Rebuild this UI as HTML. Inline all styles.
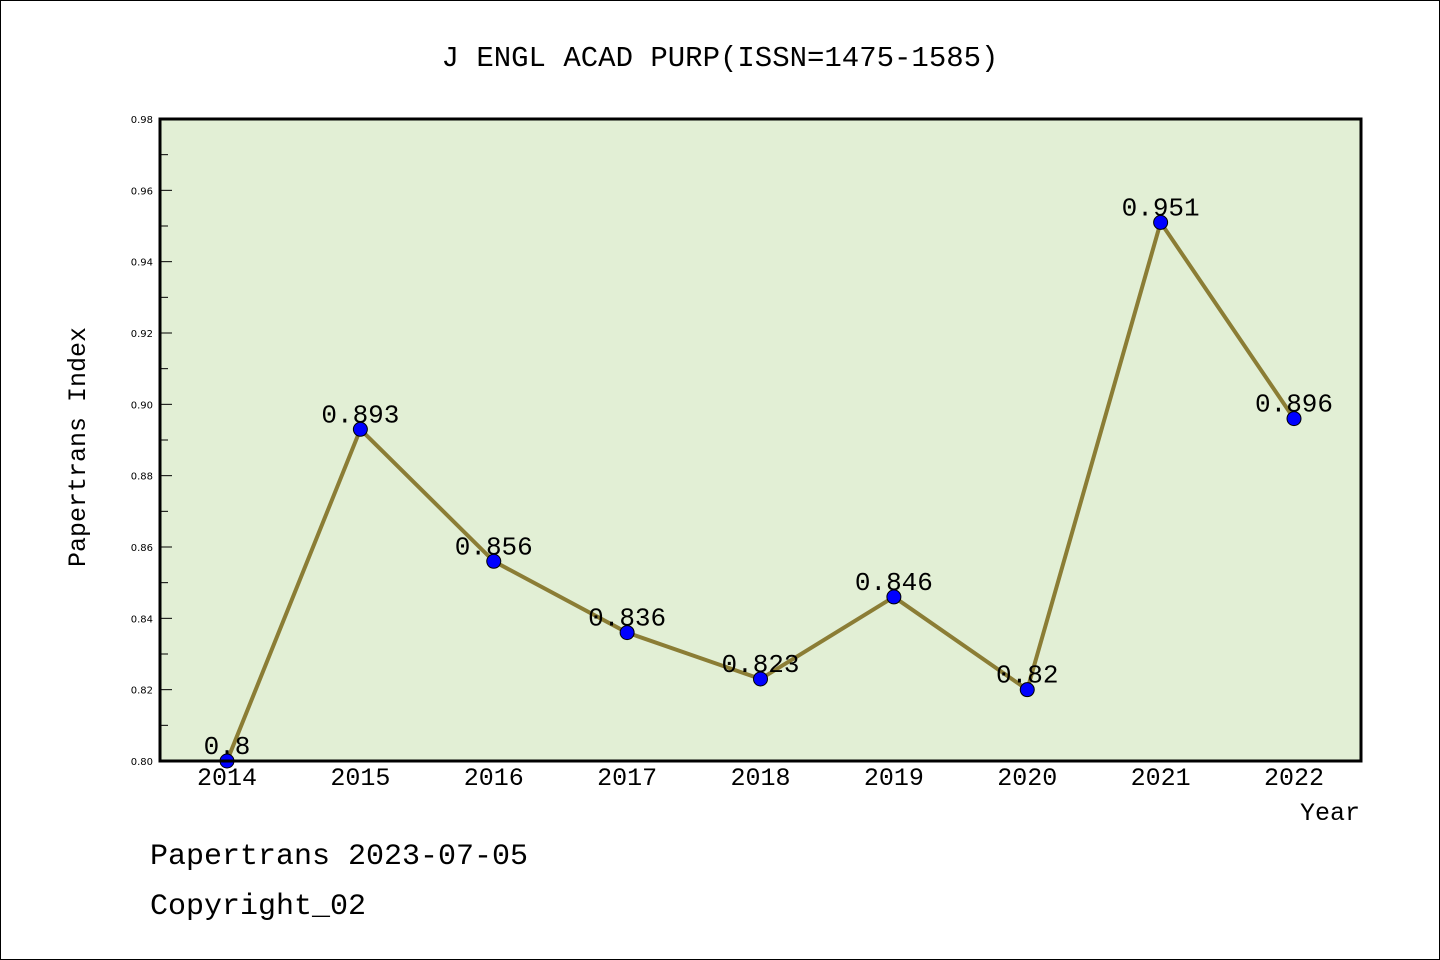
<!DOCTYPE html>
<html><head><meta charset="utf-8"><style>
body{margin:0;background:#fff;}
svg{display:block;font-family:"Liberation Mono",monospace;}
</style></head><body>
<svg id="chart" width="1440" height="960" xmlns="http://www.w3.org/2000/svg">
<rect x="0.5" y="0.5" width="1439" height="959" fill="#fff" stroke="#000"/>
<text x="720" y="66" text-anchor="middle" font-size="29">J ENGL ACAD PURP(ISSN=1475-1585)</text>
<rect x="160" y="119" width="1201" height="642" fill="#e2efd5"/>
<g id="yaxis"></g>
<g id="xaxis"></g>
<g id="series"></g>
<rect x="160" y="119" width="1201" height="642" fill="none" stroke="#000" stroke-width="3"/>
<text x="85" y="447" text-anchor="middle" font-size="25" transform="rotate(-90 85 447)">Papertrans Index</text>
<text x="1360" y="820" text-anchor="end" font-size="25">Year</text>
<text x="150" y="864" font-size="30">Papertrans 2023-07-05</text>
<text x="150" y="914" font-size="30">Copyright_02</text>
</svg>
<script>
const years=["2014","2015","2016","2017","2018","2019","2020","2021","2022"];
const values=[0.8,0.893,0.856,0.836,0.823,0.846,0.82,0.951,0.896];
const valueLabels=["0.8","0.893","0.856","0.836","0.823","0.846","0.82","0.951","0.896"];
const yTicks=[0.80,0.82,0.84,0.86,0.88,0.90,0.92,0.94,0.96,0.98];
const NS="http://www.w3.org/2000/svg";
const yMin=0.80,yMax=0.98,plotTop=119,plotBot=761;
function yS(v){return plotBot-(v-yMin)/(yMax-yMin)*(plotBot-plotTop);}
function xS(i){return 227+i*(1294-227)/(years.length-1);}
function mk(tag,attrs,parent){const e=document.createElementNS(NS,tag);for(const k in attrs)e.setAttribute(k,attrs[k]);parent.appendChild(e);return e;}
const ya=document.getElementById('yaxis'),xa=document.getElementById('xaxis'),se=document.getElementById('series');
yTicks.forEach((t,i)=>{
  const l=mk('line',{x1:160,x2:172,y1:yS(t),y2:yS(t),stroke:'#000','stroke-width':1},ya);
  
  
  const tx=mk('text',{x:153,y:yS(t)+4,'text-anchor':'end','font-size':10,'font-family':'DejaVu Sans, sans-serif'},ya);
  tx.textContent=t.toFixed(2);
  
  
  if(i<yTicks.length-1){
    const m=(t+yTicks[i+1])/2;
    const ml=mk('line',{x1:160,x2:168,y1:yS(m),y2:yS(m),stroke:'#000','stroke-width':1},ya);
    
    
  }
});
years.forEach((yr,i)=>{
  const tx=mk('text',{x:xS(i),y:785,'text-anchor':'middle','font-size':25},xa);
  tx.textContent=yr;
  
  
});
const pl=mk('polyline',{points:values.map((v,i)=>xS(i)+','+yS(v)).join(' '),fill:'none',stroke:'#8b7d35','stroke-width':4},se);


values.forEach((v,i)=>{
  const c=mk('circle',{cx:xS(i),cy:yS(v),r:7,fill:'#0000ff',stroke:'#000','stroke-width':1},se);
  
  
  const t=mk('text',{x:xS(i),y:yS(v)-7,'text-anchor':'middle','font-size':26},se);
  t.textContent=valueLabels[i];
  
  
});
</script>
</body></html>
